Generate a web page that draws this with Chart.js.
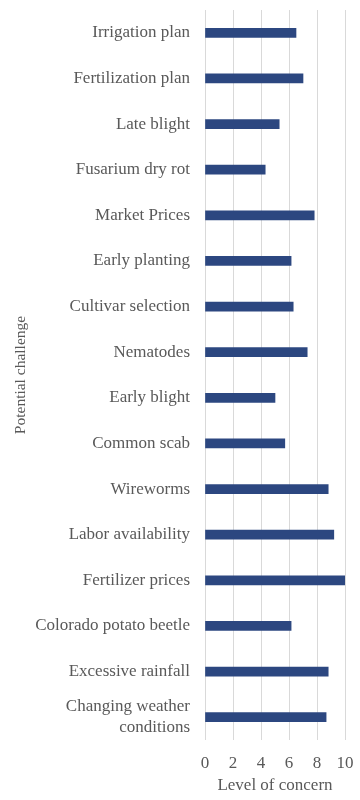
<!DOCTYPE html>
<html>
<head>
<meta charset="utf-8">
<script src="https://cdn.jsdelivr.net/npm/chart.js@4.4.1/dist/chart.umd.min.js"></script>
<style>
  html, body { margin: 0; padding: 0; background: #fff; }
  #wrap { width: 360px; height: 800px; position: relative; }
</style>
</head>
<body>
<div id="wrap"><canvas id="concernChart"></canvas></div>
<script>
// challenge labels, top to bottom
const challenges = [
    'Irrigation plan',
    'Fertilization plan',
    'Late blight',
    'Fusarium dry rot',
    'Market Prices',
    'Early planting',
    'Cultivar selection',
    'Nematodes',
    'Early blight',
    'Common scab',
    'Wireworms',
    'Labor availability',
    'Fertilizer prices',
    'Colorado potato beetle',
    'Excessive rainfall',
    ['Changing weather', 'conditions']
];

const concernLevels = [6.5, 7.0, 5.3, 4.3, 7.8, 6.15, 6.3, 7.3, 5.0, 5.7, 8.8, 9.2, 10.0, 6.15, 8.8, 8.65];

const xTicks = [0, 2, 4, 6, 8, 10];

const textColor = '#595959';
const serif = "'Liberation Serif', 'Times New Roman', serif";

function initializeChart() {
    const ctx = document.getElementById('concernChart').getContext('2d');
    new Chart(ctx, {
        type: 'bar',
        data: {
            labels: challenges,
            datasets: [{
                label: 'Level of concern',
                data: concernLevels,
                backgroundColor: '#2C4780',
                barThickness: 9
            }]
        },
        options: {
            indexAxis: 'y',
            responsive: true,
            maintainAspectRatio: false,
            animation: false,
            layout: { padding: { top: 10, right: 15, bottom: 0, left: 12 } },
            plugins: {
                legend: { display: false },
                tooltip: { enabled: false }
            },
            scales: {
                x: {
                    min: 0,
                    max: 10,
                    afterBuildTicks: (axis) => {
                        axis.ticks = xTicks.map(v => ({ value: v }));
                    },
                    grid: { color: '#d9d9d9', drawTicks: false },
                    border: { display: false },
                    ticks: {
                        color: textColor,
                        padding: 13,
                        font: { family: serif, size: 17 }
                    },
                    title: {
                        display: true,
                        text: 'Level of concern',
                        color: textColor,
                        padding: { top: 4, bottom: 4 },
                        font: { family: serif, size: 17 }
                    },
                    afterFit: (axis) => {
                        axis.height = 60;
                        axis.paddingLeft = 0;
                        axis.paddingRight = 0;
                    }
                },
                y: {
                    grid: { display: false, drawTicks: false },
                    border: { display: false },
                    ticks: {
                        color: textColor,
                        padding: 15,
                        font: { family: serif, size: 17, lineHeight: 1.2 }
                    },
                    title: {
                        display: true,
                        text: 'Potential challenge',
                        color: textColor,
                        padding: { top: 0, bottom: 0 },
                        font: { family: serif, size: 15.5 }
                    },
                    afterFit: (axis) => {
                        axis.width = 193;
                        axis.paddingTop = 0;
                        axis.paddingBottom = 0;
                    }
                }
            }
        }
    });
}

document.addEventListener('DOMContentLoaded', initializeChart);
</script>
</body>
</html>
